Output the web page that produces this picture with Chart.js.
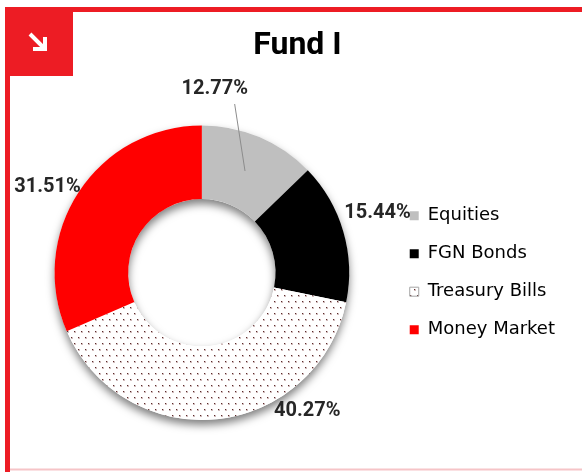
<!DOCTYPE html>
<html>
<head>
<meta charset="utf-8">
<title>Fund I</title>
<script src="https://cdn.jsdelivr.net/npm/chart.js@4.4.1/dist/chart.umd.min.js"></script>
<style>
    html, body { margin: 0; padding: 0; background: #fff; }
    #wrap { position: relative; width: 582px; height: 472px; overflow: hidden; background: #fff; }
    #fundChart { position: absolute; left: 0; top: 0; }
    #frame { position: absolute; left: 0; top: 0; pointer-events: none; }
</style>
</head>
<body>
<div id="wrap">
    <canvas id="fundChart" width="582" height="472"></canvas>
    <svg id="frame" width="582" height="472">
        <rect x="5" y="7" width="577" height="5" fill="#ed1c24"/>
        <rect x="5" y="7" width="5" height="465" fill="#ed1c24"/>
        <rect x="5" y="7" width="68" height="69" fill="#ed1c24"/>
        <line x1="10" y1="469.5" x2="582" y2="469.5" stroke="#f6c4c7" stroke-width="2"/>
        <path d="M30 34 L45 49 M45 37 V49 H33" stroke="#fff" stroke-width="4" fill="none"/>
    </svg>
</div>
<script>
// --- Chart data ---
const chartTitle = 'Fund I';
const categories = ['Equities', 'FGN Bonds', 'Treasury Bills', 'Money Market'];
const allocations = [12.77, 15.44, 40.27, 31.51];

document.addEventListener('DOMContentLoaded', () => {
    if (typeof Chart === 'undefined') {
        console.error('Chart.js failed to load.');
        return;
    }

    // dotted fill used for Treasury Bills
    function makeDotPattern(ctx) {
        const tile = document.createElement('canvas');
        tile.width = 7;
        tile.height = 12;
        const g = tile.getContext('2d');
        g.fillStyle = '#ffffff';
        g.fillRect(0, 0, 7, 12);
        g.fillStyle = 'rgba(120, 60, 60, 0.35)';
        g.fillRect(1, 1, 2, 2);
        g.fillRect(4, 7, 2, 2);
        g.fillStyle = '#5a2a2a';
        g.fillRect(1, 1, 1, 1);
        g.fillRect(4, 7, 1, 1);
        return ctx.createPattern(tile, 'repeat');
    }

    const canvas = document.getElementById('fundChart');
    const ctx = canvas.getContext('2d');
    const sliceColors = ['#bfbfbf', '#000000', makeDotPattern(ctx), '#ff0000'];

    // soft drop shadow under the ring
    const ringShadow = {
        id: 'ringShadow',
        beforeDatasetsDraw(chart) {
            const arc = chart.getDatasetMeta(0).data[0];
            if (!arc) return;
            const { x, y, innerRadius, outerRadius } = arc.getProps(['x', 'y', 'innerRadius', 'outerRadius'], true);
            const c = chart.ctx;
            c.save();
            c.shadowColor = 'rgba(0, 0, 0, 0.5)';
            c.shadowBlur = 9;
            c.shadowOffsetX = 0;
            c.shadowOffsetY = 5;
            c.beginPath();
            c.arc(x, y, outerRadius, 0, Math.PI * 2);
            c.arc(x, y, innerRadius, Math.PI * 2, 0, true);
            c.closePath();
            c.fillStyle = '#ffffff';
            c.fill();
            c.restore();
        }
    };

    // percentage labels outside the ring (angle nudge in degrees, distance as factor of outer radius)
    const sliceLabels = {
        id: 'sliceLabels',
        afterDatasetsDraw(chart, args, opts) {
            const c = chart.ctx;
            const values = chart.data.datasets[0].data;
            c.save();
            c.font = opts.font;
            c.fillStyle = opts.color;
            c.textAlign = 'center';
            c.textBaseline = 'middle';
            chart.getDatasetMeta(0).data.forEach((arc, i) => {
                const p = arc.getProps(['x', 'y', 'startAngle', 'endAngle', 'innerRadius', 'outerRadius'], true);
                const mid = (p.startAngle + p.endAngle) / 2;
                const nudge = opts.nudges[i] || [0, 1.22];
                const a = mid + nudge[0] * Math.PI / 180;
                const lx = p.x + Math.cos(a) * p.outerRadius * nudge[1];
                const ly = p.y + Math.sin(a) * p.outerRadius * nudge[1];
                if (opts.leaders.includes(i)) {
                    const r = (p.innerRadius + p.outerRadius) / 2;
                    c.beginPath();
                    c.strokeStyle = '#8c8c8c';
                    c.lineWidth = 1;
                    c.moveTo(lx + 20, ly + 15);
                    c.lineTo(p.x + Math.cos(mid) * r, p.y + Math.sin(mid) * r);
                    c.stroke();
                }
                c.fillText(values[i].toFixed(2) + '%', lx, ly);
            });
            c.restore();
        }
    };

    new Chart(ctx, {
        type: 'doughnut',
        data: {
            labels: categories,
            datasets: [{
                data: allocations,
                backgroundColor: sliceColors,
                borderWidth: 0
            }]
        },
        options: {
            responsive: false,
            animation: false,
            events: [],
            cutout: '50%',
            layout: { padding: { left: 14, right: 17, top: 0, bottom: 52 } },
            plugins: {
                title: {
                    display: true,
                    text: '\u00a0\u00a0' + chartTitle,
                    color: '#000',
                    font: { family: 'Roboto', size: 32, weight: 'bold' },
                    padding: { top: 27, bottom: 60 }
                },
                legend: {
                    position: 'right',
                    fullSize: false,
                    labels: {
                        boxWidth: 9,
                        boxHeight: 9,
                        padding: 20,
                        color: '#000',
                        font: { family: 'DejaVu Sans', size: 18 },
                        generateLabels: (chart) => {
                            const items = Chart.overrides.doughnut.plugins.legend.labels.generateLabels(chart);
                            items.forEach((it, i) => {
                                it.lineWidth = i === 2 ? 1 : 0;
                                it.strokeStyle = '#a6a6a6';
                            });
                            return items;
                        }
                    }
                },
                tooltip: { enabled: false },
                sliceLabels: {
                    font: 'bold 20px Roboto',
                    color: '#262626',
                    nudges: [[-19, 1.25], [-2.6, 1.26], [-31.4, 1.18], [-4.1, 1.2]],
                    leaders: [0]
                }
            }
        },
        plugins: [ringShadow, sliceLabels]
    });
});
</script>
</body>
</html>
